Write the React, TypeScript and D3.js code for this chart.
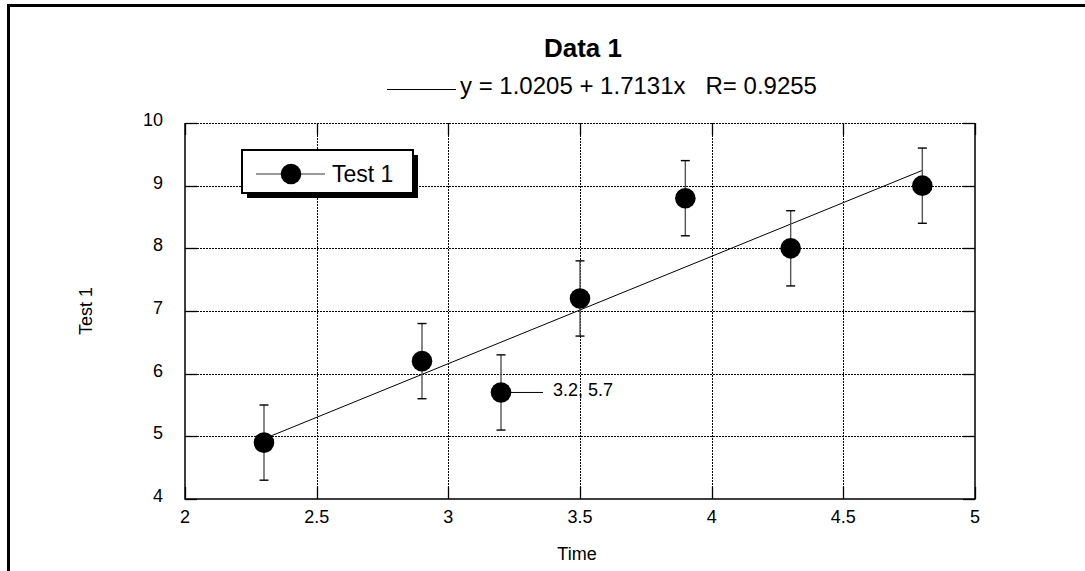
import * as d3 from "d3";

const xValues = [2.3, 2.9, 3.2, 3.5, 3.9, 4.3, 4.8];
const yValues = [4.9, 6.2, 5.7, 7.2, 8.8, 8.0, 9.0];
const yErrors = [0.6, 0.6, 0.6, 0.6, 0.6, 0.6, 0.6];
const xTicks = [2, 2.5, 3, 3.5, 4, 4.5, 5];
const yTicks = [4, 5, 6, 7, 8, 9, 10];
const fitIntercept = 1.0205;
const fitSlope = 1.7131;
const fitR = 0.9255;
const fitRange = [2.3, 4.8];
const labelIndex = 2; // point that carries the "3.2, 5.7" label

const W = 1085;
const H = 571;
const font = "'Liberation Sans', Arial, Helvetica, sans-serif";

// snap to pixel centre so 1px lines stay crisp
const px = (v: number) => Math.round(v) + 0.5;

export default function App() {
    // plot area
    const left = 185, right = 975, top = 123, bottom = 499;

    const x = d3.scaleLinear().domain([2, 5]).range([left, right]);
    const y = d3.scaleLinear().domain([4, 10]).range([bottom, top]);

    const points = xValues.map((v, i) => ({ x: v, y: yValues[i], e: yErrors[i] }));

    const fitLine = d3.line<number>()
        .x(d => x(d))
        .y(d => y(fitIntercept + fitSlope * d))(fitRange);

    const tickLen = 12;
    const lp = points[labelIndex];

    return (
        <svg width={W} height={H} style={{ position: "absolute", left: 0, top: 0, background: "#fff" }}
            fontFamily={font}>
            {/* outer frame, only top and left visible */}
            <line x1={7} x2={W} y1={5.5} y2={5.5} stroke="#000" strokeWidth={3} />
            <line x1={8.5} x2={8.5} y1={4} y2={H} stroke="#000" strokeWidth={3} />

            {/* title */}
            <text x={583} y={57} textAnchor="middle" fontSize={26} fontWeight="bold">Data 1</text>

            {/* fit legend */}
            <line x1={387} x2={456} y1={89.5} y2={89.5} stroke="#000" strokeWidth={1} />
            <text x={460} y={94} fontSize={24} style={{ whiteSpace: "pre" }}>
                {`y = ${fitIntercept} + ${fitSlope}x   R= ${fitR}`}
            </text>

            {/* grid */}
            <g stroke="#000" strokeWidth={1} strokeDasharray="2,1" shapeRendering="crispEdges">
                {xTicks.slice(1, -1).map(t => (
                    <line key={"gx" + t} x1={px(x(t))} x2={px(x(t))} y1={top} y2={bottom} />
                ))}
                {yTicks.slice(1).map(t => (
                    <line key={"gy" + t} x1={left} x2={right} y1={px(y(t))} y2={px(y(t))} />
                ))}
            </g>

            {/* frame: left, right, bottom solid */}
            <path d={`M${left},${top}V${bottom}H${right}V${top}`} fill="none" stroke="#000" strokeWidth={1.5} />

            {/* inward ticks */}
            <g stroke="#000" strokeWidth={1.3}>
                {yTicks.map(t => (
                    <g key={"ty" + t}>
                        <line x1={left} x2={left + tickLen} y1={px(y(t))} y2={px(y(t))} />
                        <line x1={right - tickLen} x2={right} y1={px(y(t))} y2={px(y(t))} />
                    </g>
                ))}
                {xTicks.map(t => (
                    <g key={"tx" + t}>
                        <line x1={px(x(t))} x2={px(x(t))} y1={bottom} y2={bottom - tickLen} />
                        <line x1={px(x(t))} x2={px(x(t))} y1={top} y2={top + tickLen} />
                    </g>
                ))}
            </g>

            {/* tick labels */}
            <g fontSize={18} fill="#000">
                {yTicks.map(t => (
                    <text key={"ly" + t} x={163} y={y(t) + 3} textAnchor="end">{t}</text>
                ))}
                {xTicks.map(t => (
                    <text key={"lx" + t} x={x(t)} y={523} textAnchor="middle">{t}</text>
                ))}
            </g>

            {/* axis titles */}
            <text x={577} y={560} textAnchor="middle" fontSize={18}>Time</text>
            <text transform="translate(92,311) rotate(-90)" textAnchor="middle" fontSize={18}>Test 1</text>

            {/* regression line */}
            <path d={fitLine ?? ""} fill="none" stroke="#000" strokeWidth={1} />

            {/* error bars */}
            <g stroke="#555" strokeWidth={1.4}>
                {points.map((p, i) => (
                    <g key={"e" + i}>
                        <line x1={x(p.x)} x2={x(p.x)} y1={y(p.y - p.e)} y2={y(p.y + p.e)} />
                        <line x1={x(p.x) - 4.5} x2={x(p.x) + 4.5} y1={y(p.y - p.e)} y2={y(p.y - p.e)} stroke="#000" />
                        <line x1={x(p.x) - 4.5} x2={x(p.x) + 4.5} y1={y(p.y + p.e)} y2={y(p.y + p.e)} stroke="#000" />
                    </g>
                ))}
            </g>

            {/* markers */}
            {points.map((p, i) => (
                <circle key={"c" + i} cx={x(p.x)} cy={y(p.y)} r={10.3} fill="#000" />
            ))}

            {/* point label */}
            <line x1={x(lp.x)} x2={x(lp.x) + 42} y1={y(lp.y)} y2={y(lp.y)} stroke="#000" strokeWidth={1} />
            <text x={x(lp.x) + 52} y={y(lp.y) + 4} fontSize={18}>{`${lp.x}, ${lp.y}`}</text>

            {/* series legend */}
            <rect x={247} y={155} width={171} height={43} fill="#000" />
            <rect x={242} y={150} width={171} height={43} fill="#fff" stroke="#000" strokeWidth={2} />
            <line x1={256} x2={325} y1={174} y2={174} stroke="#777" strokeWidth={1.5} />
            <circle cx={291} cy={174} r={10.3} fill="#000" />
            <text x={332} y={182} fontSize={23}>Test 1</text>
        </svg>
    );
}
